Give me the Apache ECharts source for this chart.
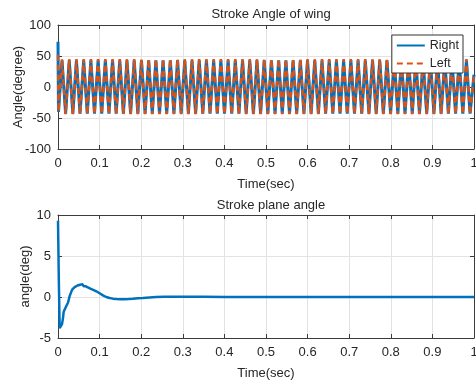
<!DOCTYPE html>
<html>
<head>
<meta charset="utf-8">
<script src="https://cdn.jsdelivr.net/npm/echarts@6/dist/echarts.min.js"></script>
<style>
  html, body { margin: 0; padding: 0; background: #fff; }
  #chart { width: 476px; height: 387px; }
</style>
</head>
<body>
<div id="chart"></div>
<script>
// stroke angle: times of the turning points (sec)
const wingTime = [
  0, 0.0012,
  0.0096, 0.0183, 0.0270, 0.0357, 0.0443, 0.0530, 0.0617, 0.0704, 0.0790, 0.0877,
  0.0964, 0.1051, 0.1138, 0.1225, 0.1311, 0.1398, 0.1485, 0.1572, 0.1658, 0.1745,
  0.1832, 0.1919, 0.2006, 0.2093, 0.2179, 0.2266, 0.2353, 0.2440, 0.2526, 0.2613,
  0.2700, 0.2787, 0.2874, 0.2961, 0.3047, 0.3134, 0.3221, 0.3308, 0.3394, 0.3481,
  0.3568, 0.3655, 0.3742, 0.3829, 0.3915, 0.4002, 0.4089, 0.4176, 0.4262, 0.4349,
  0.4436, 0.4523, 0.4610, 0.4697, 0.4783, 0.4870, 0.4957, 0.5044, 0.5130, 0.5217,
  0.5304, 0.5391, 0.5478, 0.5565, 0.5651, 0.5738, 0.5825, 0.5912, 0.5998, 0.6085,
  0.6172, 0.6259, 0.6346, 0.6433, 0.6519, 0.6606, 0.6693, 0.6780, 0.6866, 0.6953,
  0.7040, 0.7127, 0.7214, 0.7301, 0.7387, 0.7474, 0.7561, 0.7648, 0.7734, 0.7821,
  0.7908, 0.7995, 0.8082, 0.8169, 0.8255, 0.8342, 0.8429, 0.8516, 0.8602, 0.8689,
  0.8776, 0.8863, 0.8950, 0.9037, 0.9123, 0.9210, 0.9297, 0.9384, 0.9470, 0.9557,
  0.9644, 0.9731, 0.9818, 0.9905, 1.0
]
const rightAngle = [
  73, -40,
  43, -43, 43, -43, 43, -43, 43, -43, 43, -43,
  43, -43, 43, -43, 43, -43, 43, -43, 43, -43,
  43, -43, 43, -43, 43, -43, 43, -43, 43, -43,
  43, -43, 43, -43, 43, -43, 43, -43, 43, -43,
  43, -43, 43, -43, 43, -43, 43, -43, 43, -43,
  43, -43, 43, -43, 43, -43, 43, -43, 43, -43,
  43, -43, 43, -43, 43, -43, 43, -43, 43, -43,
  43, -43, 43, -43, 43, -43, 43, -43, 43, -43,
  43, -43, 43, -43, 43, -43, 43, -43, 43, -43,
  43, -43, 43, -43, 43, -43, 43, -43, 43, -43,
  43, -43, 43, -43, 43, -43, 43, -43, 43, -43,
  43, -43, 43, -43, 20
]
const leftAngle = [
  52, -40,
  45, -44, 45, -44, 45, -44, 45, -44, 45, -44,
  45, -44, 45, -44, 45, -44, 45, -44, 45, -44,
  45, -44, 45, -44, 45, -44, 45, -44, 45, -44,
  45, -44, 45, -44, 45, -44, 45, -44, 45, -44,
  45, -44, 45, -44, 45, -44, 45, -44, 45, -44,
  45, -44, 45, -44, 45, -44, 45, -44, 45, -44,
  45, -44, 45, -44, 45, -44, 45, -44, 45, -44,
  45, -44, 45, -44, 45, -44, 45, -44, 45, -44,
  45, -44, 45, -44, 45, -44, 45, -44, 45, -44,
  45, -44, 45, -44, 45, -44, 45, -44, 45, -44,
  45, -44, 45, -44, 45, -44, 45, -44, 45, -44,
  45, -44, 45, -44, 20
]

// stroke plane angle
const planeTime = [
  0, 0.002, 0.004, 0.0096, 0.012, 0.0136, 0.017, 0.02, 0.024, 0.028, 0.031, 0.034,
  0.037, 0.040, 0.044, 0.047, 0.050, 0.053, 0.056, 0.059, 0.062, 0.064, 0.067,
  0.070, 0.073, 0.076, 0.079, 0.082, 0.086, 0.092, 0.100, 0.108, 0.116, 0.124,
  0.132, 0.140, 0.150, 0.160, 0.170, 0.180, 0.192, 0.204, 0.220, 0.236, 0.256,
  0.276, 0.300, 0.350, 0.400, 0.500, 0.600, 0.700, 0.800, 0.900, 1.0
]
const planeAngle = [
  9.3, 2.0, -3.8, -3.3, -2.6, -1.8, -1.6, -1.1, -0.7, 0.1, 0.3, 0.9,
  0.8, 1.2, 1.1, 1.4, 1.2, 1.5, 1.3, 1.55, 1.3, 1.45, 1.3,
  1.35, 1.15, 1.2, 1.0, 1.0, 0.85, 0.7, 0.45, 0.2, 0.0, -0.12,
  -0.2, -0.25, -0.27, -0.26, -0.24, -0.2, -0.15, -0.12, -0.06, 0.0, 0.03,
  0.04, 0.03, 0.02, 0.01, 0, 0, 0, 0, 0, 0
]

const xTickLabels = ['0', '0.1', '0.2', '0.3', '0.4', '0.5', '0.6', '0.7', '0.8', '0.9', '1']
const wingTicks = ['-100', '-50', '0', '50', '100']
const planeTicks = ['-5', '0', '5', '10']

const zip = (xs, ys) => xs.map((x, i) => [x, ys[i]])

const font = 'Liberation Sans, Arial, sans-serif'
const textColor = '#262626'
const boxColor = '#3c3c3c'
const gridColor = '#e3e3e3'
const blue = '#0072BD'
const orange = '#D95319'

function xAxisFor(gridIndex, shown) {
  return {
    type: 'value', gridIndex: gridIndex, min: 0, max: 1, interval: 0.1,
    position: shown ? 'bottom' : 'top',
    name: shown ? 'Time(sec)' : '', nameLocation: 'middle', nameGap: 29,
    nameMoveOverlap: false,
    nameTextStyle: { fontFamily: font, fontSize: 13, color: textColor },
    axisLine: { show: true, onZero: false, lineStyle: { color: boxColor } },
    axisTick: { show: true, inside: true, length: 4, lineStyle: { color: boxColor } },
    axisLabel: {
      show: shown, margin: 8, fontFamily: font, fontSize: 13, color: textColor,
      formatter: (v) => xTickLabels[Math.round(v * 10)]
    },
    splitLine: { show: shown, lineStyle: { color: gridColor } }
  }
}

function yAxisFor(gridIndex, shown, min, max, step, labels, name, gap) {
  return {
    type: 'value', gridIndex: gridIndex, min: min, max: max, interval: step,
    position: shown ? 'left' : 'right',
    name: shown ? name : '', nameLocation: 'middle', nameGap: gap,
    nameMoveOverlap: false,
    nameTextStyle: { fontFamily: font, fontSize: 13, color: textColor },
    axisLine: { show: true, onZero: false, lineStyle: { color: boxColor } },
    axisTick: { show: true, inside: true, length: 4, lineStyle: { color: boxColor } },
    axisLabel: {
      show: shown, margin: 7, fontFamily: font, fontSize: 13, color: textColor,
      formatter: (v) => labels[Math.round((v - min) / step)]
    },
    splitLine: { show: shown, lineStyle: { color: gridColor } }
  }
}

const chart = echarts.init(document.getElementById('chart'))
chart.setOption({
  animation: false,
  backgroundColor: '#fff',
  title: [
    { text: 'Stroke Angle of wing', left: 266, top: 3, textAlign: 'center',
      textStyle: { fontFamily: font, fontSize: 13, fontWeight: 'normal', color: textColor } },
    { text: 'Stroke plane angle', left: 266, top: 194, textAlign: 'center',
      textStyle: { fontFamily: font, fontSize: 13, fontWeight: 'normal', color: textColor } }
  ],
  legend: {
    data: ['Right', 'Left'],
    orient: 'vertical',
    right: 13, top: 35,
    itemWidth: 28, itemHeight: 10, itemGap: 5,
    padding: [4, 4, 3, 4],
    itemStyle: { opacity: 0 },
    borderColor: '#333', borderWidth: 1, backgroundColor: '#fff',
    textStyle: { fontFamily: font, fontSize: 12.5, color: textColor }
  },
  grid: [
    { left: 58, right: 2, top: 25, height: 124, containLabel: false, outerBoundsMode: 'none' },
    { left: 58, right: 2, top: 215, height: 123, containLabel: false, outerBoundsMode: 'none' }
  ],
  xAxis: [xAxisFor(0, true), xAxisFor(0, false), xAxisFor(1, true), xAxisFor(1, false)],
  yAxis: [
    yAxisFor(0, true, -100, 100, 50, wingTicks, 'Angle(degree)', 33),
    yAxisFor(0, false, -100, 100, 50, wingTicks, '', 0),
    yAxisFor(1, true, -5, 10, 5, planeTicks, 'angle(deg)', 26),
    yAxisFor(1, false, -5, 10, 5, planeTicks, '', 0)
  ],
  series: [
    {
      name: 'Right', type: 'line', xAxisIndex: 0, yAxisIndex: 0,
      data: zip(wingTime, rightAngle), showSymbol: false, symbol: 'none',
      lineStyle: { color: blue, width: 3 }, itemStyle: { color: blue }
    },
    {
      name: 'Left', type: 'line', xAxisIndex: 0, yAxisIndex: 0,
      data: zip(wingTime, leftAngle), showSymbol: false, symbol: 'none',
      lineStyle: { color: orange, width: 2.5, type: [6, 4] }, itemStyle: { color: orange }
    },
    {
      name: 'plane', type: 'line', xAxisIndex: 2, yAxisIndex: 2,
      data: zip(planeTime, planeAngle), showSymbol: false, symbol: 'none',
      lineStyle: { color: blue, width: 2.5 }, itemStyle: { color: blue }
    }
  ]
})
</script>
</body>
</html>
